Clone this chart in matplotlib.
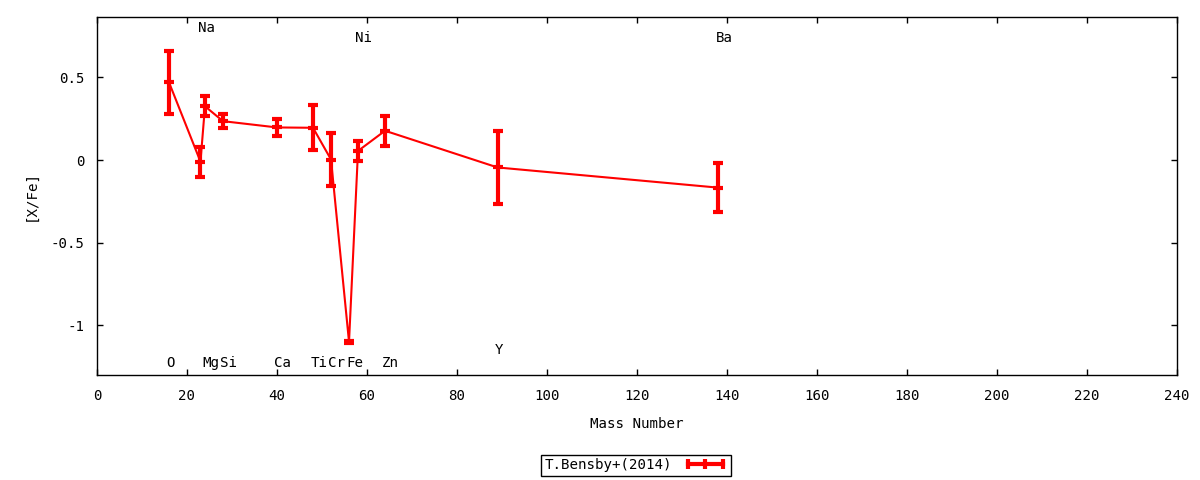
import matplotlib
matplotlib.use("Agg")
import matplotlib.pyplot as plt
from matplotlib.lines import Line2D

plt.rcParams['font.family'] = ['DejaVu Sans Mono']

elements = ['O', 'Na', 'Mg', 'Si', 'Ca', 'Ti', 'Cr', 'Fe', 'Ni', 'Zn', 'Y', 'Ba']
mass = [16, 23, 24, 28, 40, 48, 52, 56, 58, 64, 89, 138]
xfe = [0.47, -0.01, 0.325, 0.235, 0.197, 0.195, 0.003, -1.10, 0.055, 0.177, -0.045, -0.167]
err = [0.19, 0.09, 0.06, 0.043, 0.05, 0.135, 0.16, 0.005, 0.06, 0.09, 0.22, 0.15]
label_y = [-1.227, 0.80, -1.227, -1.227, -1.227, -1.227, -1.227, -1.227, 0.737, -1.227, -1.148, 0.737]
series_name = 'T.Bensby+(2014)'

xticks = list(range(0, 241, 20))
yticks = [0.5, 0, -0.5, -1]
ytick_labels = ['0.5', '0', '-0.5', '-1']

fig = plt.figure(figsize=(12, 4.8), dpi=100)
ax = fig.add_axes([0.0808, 0.2188, 0.9002, 0.7458])

red = '#ff0000'
ax.errorbar(mass, xfe, yerr=err, fmt='-', color=red, lw=1.5,
            marker='_', ms=6.5, mew=3, elinewidth=3, capsize=3.25, capthick=3)

fs = 10.2
for el, m, ly in zip(elements, mass, label_y):
    ax.text(m - 0.6, ly, el, ha='left', va='center', fontsize=fs)

ax.set_xlim(0, 240)
ax.set_ylim(-1.3, 0.865)
ax.set_xticks(xticks)
ax.set_xticklabels([str(t) for t in xticks])
ax.set_yticks(yticks)
ax.set_yticklabels(ytick_labels)
ax.tick_params(direction='in', length=4, width=1, top=True, right=True,
               labelsize=fs, pad=9)
ax.tick_params(axis='x', pad=10)
for s in ax.spines.values():
    s.set_linewidth(1)

ax.set_xlabel('Mass Number', fontsize=fs, labelpad=10)
ax.set_ylabel('[X/Fe]', fontsize=fs, labelpad=9)

handle = Line2D([0], [0], color=red, lw=3, marker='|', ms=7, mew=3)
leg = fig.legend([handle], [series_name], loc='center',
                 bbox_to_anchor=(0.53, 0.031), markerfirst=False, numpoints=3,
                 fancybox=False, edgecolor='black', framealpha=1,
                 fontsize=fs, handlelength=3.1, borderpad=0.25,
                 handletextpad=0.8, borderaxespad=0)
leg.get_frame().set_linewidth(1)

fig.savefig('out.png', dpi=100)
